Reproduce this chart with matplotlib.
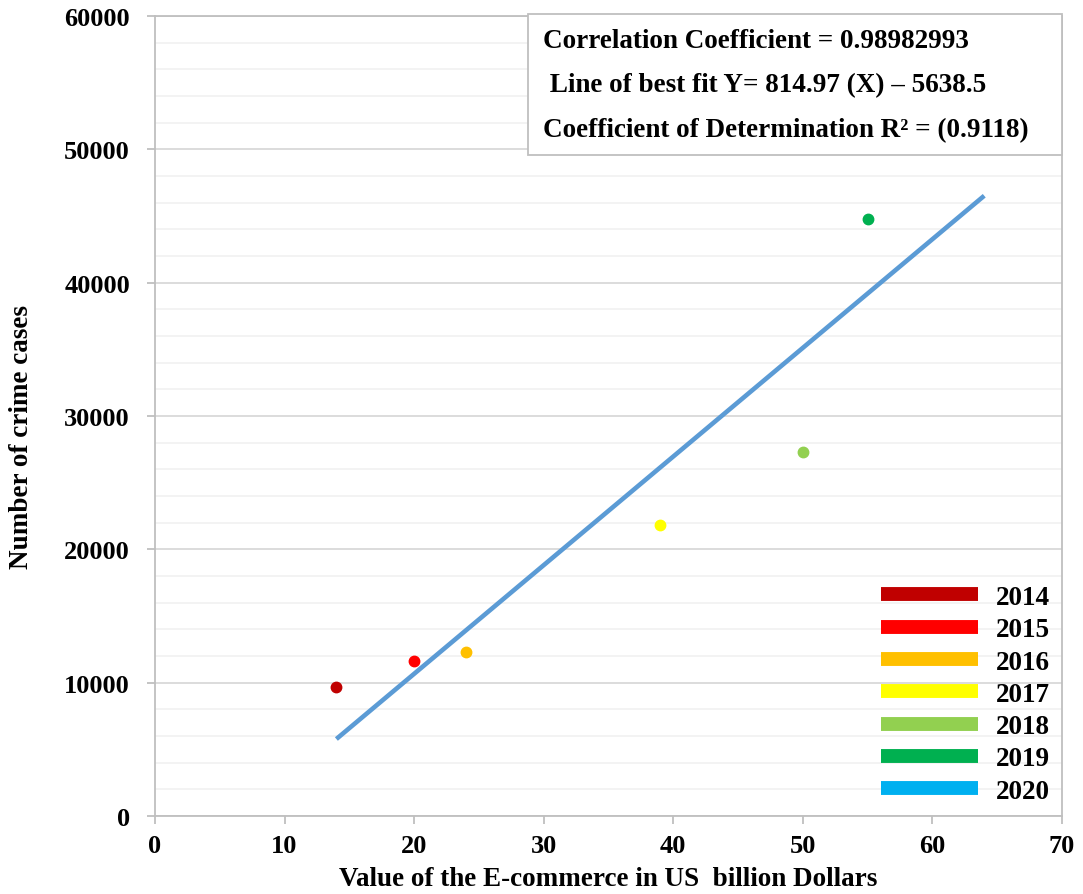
import matplotlib.pyplot as plt
from matplotlib.lines import Line2D
from matplotlib.patches import Rectangle
from matplotlib.ticker import MultipleLocator
import numpy as np

plt.rcParams['font.family'] = ['Liberation Serif', 'DejaVu Serif']
plt.rcParams['font.weight'] = 'bold'

# data
years = ['2014', '2015', '2016', '2017', '2018', '2019', '2020']
colors = ['#C00000', '#FF0000', '#FFC000', '#FFFF00', '#92D050', '#00B050', '#00B0F0']
ecommerce = [14, 20, 24, 39, 50, 55]
crimes = [9700, 11650, 12300, 21850, 27300, 44750]

# best fit line, as given on the chart
slope = 814.97
intercept = -5638.5
fit_x = np.array([14, 64])

box_lines = ['Correlation Coefficient = 0.98982993',
             ' Line of best fit Y= 814.97 (X) \u2013 5638.5',
             'Coefficient of Determination R\u00b2 = (0.9118)']

fig = plt.figure(figsize=(10.83, 8.95), dpi=100)
ax = fig.add_axes([0.1431, 0.0872, 0.8375, 0.8938])

ax.plot(fit_x, slope * fit_x + intercept, color='#5B9BD5', linewidth=3.3,
        solid_capstyle='butt', zorder=2)
for xv, yv, c in zip(ecommerce, crimes, colors):
    ax.plot(xv, yv, 'o', color=c, markersize=7.5, zorder=3)

ax.set_xlim(0, 70)
ax.set_ylim(0, 60000)
ax.xaxis.set_major_locator(MultipleLocator(10))
ax.yaxis.set_major_locator(MultipleLocator(10000))
ax.yaxis.set_minor_locator(MultipleLocator(2000))
ax.grid(axis='y', which='major', color='#D9D9D9', linewidth=1.3)
ax.grid(axis='y', which='minor', color='#F2F2F2', linewidth=1.3)
ax.set_axisbelow(True)
for s in ax.spines.values():
    s.set_color('#BFBFBF')
    s.set_linewidth(1.3)
ax.tick_params(which='major', length=6, width=1.3, color='#BFBFBF', labelsize=19)
ax.tick_params(axis='x', pad=7)
ax.tick_params(axis='y', pad=12)
ax.tick_params(which='minor', length=0)
for lab in ax.get_xticklabels() + ax.get_yticklabels():
    lab.set_fontweight('bold')

ax.set_xlabel('Value of the E-commerce in US  billion Dollars', fontsize=19.5,
              fontweight='bold')
ax.set_ylabel('Number of crime cases', fontsize=19.5, fontweight='bold')
ax.xaxis.set_label_coords(0.5, -0.062)
ax.yaxis.set_label_coords(-0.133, 0.475)

# statistics box
ax.add_patch(Rectangle((0.4112, 0.826), 0.5888, 0.1765, transform=ax.transAxes,
                       facecolor='white', edgecolor='#BFBFBF', linewidth=1.3,
                       clip_on=False, zorder=5))
for line, yy in zip(box_lines, [0.97, 0.9138, 0.8575]):
    ax.text(0.4278, yy, line, transform=ax.transAxes, ha='left', va='center',
            fontsize=19.5, fontweight='bold', zorder=6)

handles = [Line2D([0], [0], color=c, linewidth=10, solid_capstyle='butt') for c in colors]
leg = ax.legend(handles, years, loc='lower right', frameon=False, fontsize=19.5,
                handlelength=3.55, handletextpad=0.67, labelspacing=0.27,
                borderaxespad=0.05)
for t in leg.get_texts():
    t.set_fontweight('bold')

fig.savefig('out.png', dpi=100)
